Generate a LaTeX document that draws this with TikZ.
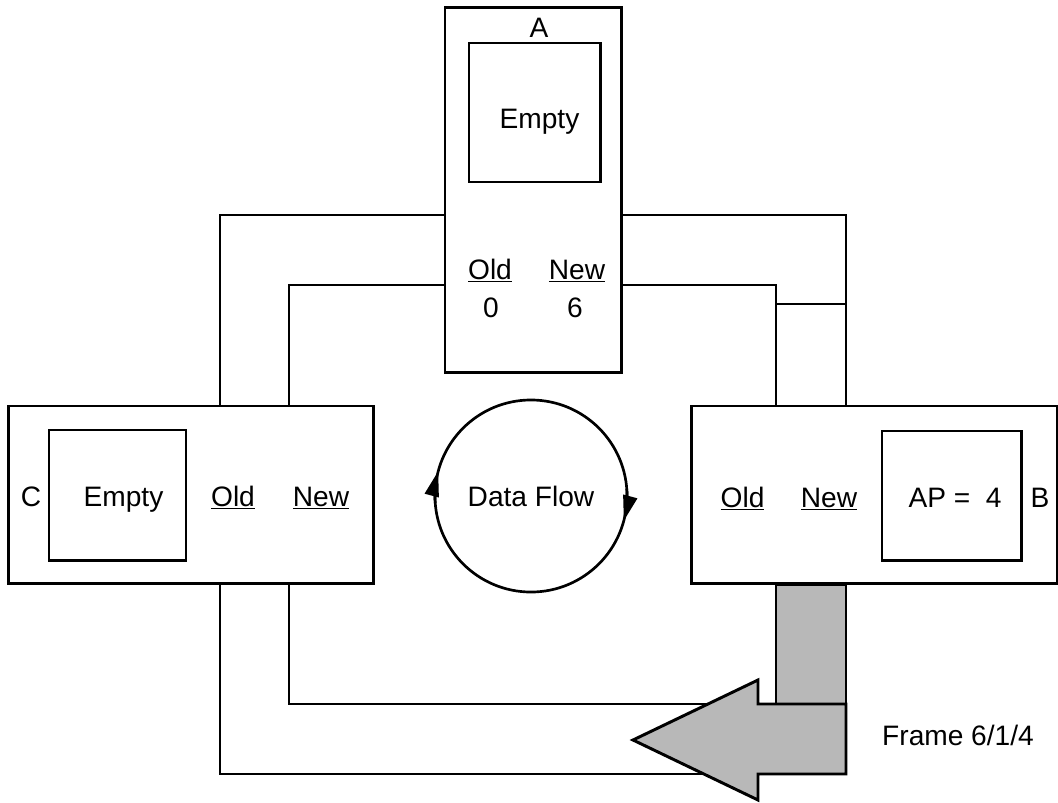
\documentclass[tikz,border=0pt]{standalone}
\usepackage{fontspec}
\setmainfont{Liberation Sans}
\usetikzlibrary{arrows.meta}

\begin{document}
\begin{tikzpicture}[x=0.025cm, y=0.025cm,
    box/.style={draw, line width=2.1pt, inner sep=0pt},
    wire/.style={line width=2.1pt},
    lbl/.style={anchor=base, inner sep=0pt, font=\fontsize{20}{24}\selectfont},
    shade/.style={draw, line width=2.1pt, fill=black!28, line join=miter}]
    \useasboundingbox (0,0) rectangle (1058,-802);

    % Stations
    \node[box, minimum width=4.4cm, minimum height=9.1cm] (A) at (533,-190) {};
    \node[box, minimum width=3.275cm, minimum height=3.475cm] (Ain) at (534.5,-112.5) {};
    \node[box, minimum width=9.1cm, minimum height=4.425cm] (C) at (191,-494.5) {};
    \node[box, minimum width=3.425cm, minimum height=3.25cm] (Cin) at (117.5,-495) {};
    \node[box, minimum width=9.125cm, minimum height=4.425cm] (B) at (874.5,-494.5) {};
    \node[box, minimum width=3.475cm, minimum height=3.225cm] (Bin) at (951.5,-495.5) {};

    % Labels
    \node[lbl] (Atag) at (539,-37) {A};
    \node[lbl] (Aempty) at (539.5,-128) {Empty};
    \node[lbl] (Aold) at (490,-279) {\underline{Old}};
    \node[lbl] (Anew) at (577,-279) {\underline{New}};
    \node[lbl] (Aoldval) at (491,-317) {0};
    \node[lbl] (Anewval) at (575,-317) {6};
    \node[lbl] (Ctag) at (31,-506) {C};
    \node[lbl] (Cempty) at (123.5,-506) {Empty};
    \node[lbl] (Cold) at (233,-506) {\underline{Old}};
    \node[lbl] (Cnew) at (321,-506) {\underline{New}};
    \node[lbl] (Bold) at (742.5,-507) {\underline{Old}};
    \node[lbl] (Bnew) at (829,-507) {\underline{New}};
    \node[lbl] (Bap) at (955,-507) {AP =\ \ 4};
    \node[lbl] (Btag) at (1040,-507) {B};
    \node[lbl] (frame) at (958,-745) {Frame 6/1/4};

    % Data flow ring
    \node[draw, circle, line width=1.9pt, inner sep=0pt, minimum size=4.8cm,
          font=\fontsize{20}{24}\selectfont] (flow) at (531,-496) {Data Flow};
    \draw[line width=1.9pt, -{Triangle[length=18pt, width=10pt]}]
        ([shift={(184:2.4cm)}]flow.center) arc[start angle=184, end angle=165, radius=2.4cm];
    \draw[line width=1.9pt, -{Triangle[length=18pt, width=10pt]}]
        ([shift={(4:2.4cm)}]flow.center) arc[start angle=4, end angle=-15, radius=2.4cm];

    % Lanes
    \coordinate (oNW) at (220,-215);
    \coordinate (oNE) at (846,-215);
    \coordinate (iNW) at (289,-285);
    \coordinate (iNE) at (776,-285);
    \coordinate (tap) at (776,-304);
    \coordinate (oSW) at (220,-774);
    \coordinate (iSW) at (289,-704);
    \coordinate (barSW) at (776,-704);
    \coordinate (tailS) at (758,-774);

    \draw[wire] (C.north -| oNW) |- (A.west |- oNW);
    \draw[wire] (A.east |- oNE) -| (B.north -| oNE);
    \draw[wire] (C.north -| iNW) |- (A.west |- iNW);
    \draw[wire] (A.east |- iNE) -| (B.north -| iNE);
    \draw[wire] (tap) -- (tap -| oNE);
    \draw[wire] (C.south -| oSW) |- (tailS);
    \draw[wire] (C.south -| iSW) |- (barSW);

    % Frame arrow
    \draw[shade] (B.south -| barSW) rectangle (846,-704);
    \draw[shade] (846,-704) -- (846,-774) -- (tailS) -- (758,-800) -- (633,-740)
        -- (758,-680) -- (758,-704) -- cycle;
\end{tikzpicture}
\end{document}
